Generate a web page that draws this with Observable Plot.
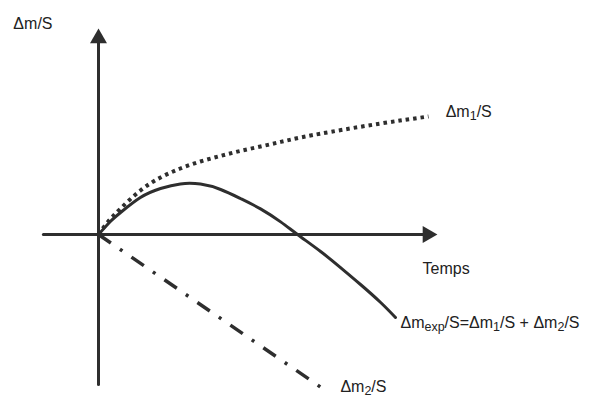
<!DOCTYPE html>
<html>
<head>
<meta charset="utf-8">
<script src="https://cdn.jsdelivr.net/npm/d3@7"></script>
<script src="https://cdn.jsdelivr.net/npm/@observablehq/plot@0.6"></script>
<style>
  html, body { margin: 0; padding: 0; background: #fff; }
  svg text { font-family: "Liberation Sans", Arial, Helvetica, sans-serif; }
</style>
</head>
<body>
<div id="chart"></div>
<script>
// Δm1/S (dotted) — time and value
const tM1 = [0, 0.27, 0.67, 1.27, 1.88, 2.48, 3.09, 3.70, 4.30, 4.91, 5.52, 6.12, 7.03, 8.55, 10.0];
const m1  = [0, 0.6, 1.3, 2.2, 2.85, 3.3, 3.65, 3.93, 4.18, 4.4, 4.63, 4.85, 5.13, 5.55, 5.9];
// Δm_exp/S (solid)
const tExp = [0, 0.36, 0.67, 1.27, 1.88, 2.48, 3.09, 3.70, 4.30, 4.91, 5.52, 6.03, 6.73, 7.33, 7.94, 8.55, 9.0];
const mExp = [0, 0.65, 1.1, 1.85, 2.3, 2.53, 2.52, 2.25, 1.8, 1.28, 0.63, 0, -0.85, -1.65, -2.5, -3.4, -4.15];
// Δm2/S (dash-dot)
const tM2 = [0, 6.88];
const m2  = [0, -7.8];
// axes extents
const xAxisExt = [-1.67, 10.27];
const yAxisExt = [-7.5, 10.3];
// labels
const labelText = ["Δm/S", "Δm_{1}/S", "Temps", "Δm_{exp}/S=Δm_{1}/S + Δm_{2}/S", "Δm_{2}/S"];
const labelX    = [-2.58, 10.52, 9.82, 9.15, 7.33];
const labelY    = [10.3, 5.9, -1.95, -4.65, -7.85];

const ink = "#2e2e2e";
const s1 = tM1.map((t, i) => ({t, v: m1[i]}));
const sE = tExp.map((t, i) => ({t, v: mExp[i]}));
const s2 = tM2.map((t, i) => ({t, v: m2[i]}));
const labels = labelText.map((text, i) => ({text, x: labelX[i], y: labelY[i]}));

const chart = Plot.plot({
  width: 598,
  height: 398,
  margin: 0,
  x: {domain: [-98 / 33, 500 / 33], axis: null},
  y: {domain: [-164 / 20, 234 / 20], axis: null},
  style: {background: "#fff"},
  marks: [
    // axes
    Plot.line([{t: xAxisExt[0], v: 0}, {t: xAxisExt[1] - 0.3, v: 0}], {x: "t", y: "v", stroke: ink, strokeWidth: 3}),
    Plot.line([{t: 0, v: yAxisExt[0]}, {t: 0, v: yAxisExt[1] - 0.5}], {x: "t", y: "v", stroke: ink, strokeWidth: 3}),
    Plot.dot([{t: xAxisExt[1], v: 0}], {x: "t", y: "v", symbol: "triangle", r: 6.3, rotate: 90, dx: -9.8, fill: ink, stroke: "none"}),
    Plot.dot([{t: 0, v: yAxisExt[1]}], {x: "t", y: "v", symbol: "triangle", r: 6.3, rotate: 0, dy: 9.8, fill: ink, stroke: "none"}),
    // curves
    Plot.line(s1, {x: "t", y: "v", curve: "natural", stroke: ink, strokeWidth: 4, strokeDasharray: "3.5,4", strokeLinecap: "butt"}),
    Plot.line(sE, {x: "t", y: "v", curve: "natural", stroke: ink, strokeWidth: 3}),
    Plot.line(s2, {x: "t", y: "v", stroke: ink, strokeWidth: 3.5, strokeDasharray: "15,11,3,11", strokeLinecap: "butt"}),
    // labels
    Plot.text(labels, {x: "x", y: "y", text: "text", textAnchor: "start", lineAnchor: "bottom", fontSize: 16, fill: "#222"})
  ]
});

// render subscripts written as _{...}
d3.select(chart).selectAll("text").each(function() {
  const el = this;
  const str = el.textContent;
  if (!str.includes("_{")) return;
  el.textContent = "";
  const parts = str.split(/(_\{[^}]*\})/);
  let shifted = false;
  for (const p of parts) {
    if (!p) continue;
    const ts = document.createElementNS("http://www.w3.org/2000/svg", "tspan");
    if (p.startsWith("_{")) {
      ts.textContent = p.slice(2, -1);
      ts.setAttribute("font-size", "12.5");
      ts.setAttribute("dy", "3.5");
      shifted = true;
    } else {
      ts.textContent = p;
      if (shifted) { ts.setAttribute("dy", "-3.5"); shifted = false; }
    }
    el.appendChild(ts);
  }
});

document.getElementById("chart").appendChild(chart);
</script>
</body>
</html>
